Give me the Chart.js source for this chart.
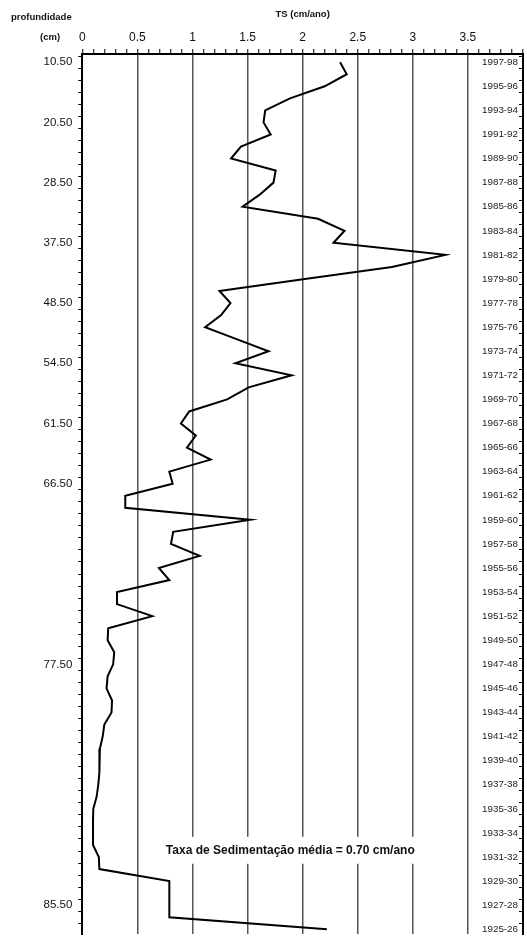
<!DOCTYPE html>
<html><head><meta charset="utf-8">
<script src="https://cdn.jsdelivr.net/npm/chart.js@4/dist/chart.umd.min.js"></script>
<style>
html,body{margin:0;padding:0;background:#fff;}
#wrap{position:relative;width:527px;height:947px;overflow:hidden;}
canvas{display:block;}
.lbl{position:absolute;font:bold 9.5px 'Liberation Sans',Arial,sans-serif;color:#111;white-space:nowrap;line-height:1;}
</style></head><body>
<div id="wrap">
<canvas id="c" width="527" height="947"></canvas>
<div class="lbl" style="left:11px;top:12px">profundidade</div>
<div class="lbl" style="left:40px;top:32px">(cm)</div>
</div>
<script>
// ---- data ----
const years = [1997,1996,1995,1994,1993,1992,1991,1990,1989,1988,1987,1986,1985,1984,1983,1982,1981,1980,1979,1978,
  1977,1976,1975,1974,1973,1972,1971,1970,1969,1968,1967,1966,1965,1964,1963,1962,1961,1960,1959,1958,
  1957,1956,1955,1954,1953,1952,1951,1950,1949,1948,1947,1946,1945,1944,1943,1942,1941,1940,1939,1938,
  1937,1936,1935,1934,1933,1932,1931,1930,1929,1928,1927,1926,1925];
const ts = [2.34,2.40,2.20,1.885,1.66,1.645,1.71,1.44,1.35,1.755,1.735,1.61,1.455,2.14,2.38,2.28,3.295,2.81,2.02,1.245,
  1.345,1.26,1.115,1.40,1.69,1.39,1.90,1.51,1.315,0.97,0.895,1.03,0.95,1.165,0.79,0.82,0.39,0.39,1.525,0.825,
  0.805,1.065,0.695,0.79,0.315,0.315,0.635,0.235,0.23,0.29,0.28,0.23,0.22,0.27,0.265,0.20,0.185,0.16,0.155,0.155,
  0.145,0.13,0.10,0.097,0.097,0.097,0.15,0.155,0.79,0.79,0.79,0.79,2.22];
const depthLabels = ["10.50","20.50","28.50","37.50","48.50","54.50","61.50","66.50","77.50","85.50"];
const depthLabelYears = [1997,1992,1987,1982,1977,1972,1967,1962,1947,1927];
const periodLabels = ["1997-98","1995-96","1993-94","1991-92","1989-90","1987-88","1985-86","1983-84","1981-82",
  "1979-80","1977-78","1975-76","1973-74","1971-72","1969-70","1967-68","1965-66","1963-64","1961-62",
  "1959-60","1957-58","1955-56","1953-54","1951-52","1949-50","1947-48","1945-46","1943-44","1941-42",
  "1939-40","1937-38","1935-36","1933-34","1931-32","1929-30","1927-28","1925-26"];
const tsTickLabels = ["0","0.5","1","1.5","2","2.5","3","3.5"];
const xTitle = "TS (cm/ano)";
const noteText = "Taxa de Sedimentação média = 0.70 cm/ano";

// ---- layout / style ----
const FONT = "'Liberation Sans', Arial, sans-serif";
const NARROW = "'Liberation Sans Narrow', 'Arial Narrow', 'Liberation Sans', Arial, sans-serif";
const Y_MIN = 1924.6, Y_MAX = 1997.68;

const halfYearTicks = () => { const t = []; for (let k = 1925; k <= 1997; k++) t.push({value: k + 0.5}); return t; };

const noteBox = {
  id: 'noteBox',
  beforeDatasetsDraw(chart, args, opts) {
    const {ctx, scales} = chart;
    const cx = scales.x.getPixelForValue(opts.x);
    const cy = scales.y.getPixelForValue(opts.y);
    ctx.save();
    ctx.font = 'bold ' + opts.size + 'px ' + FONT;
    const w = ctx.measureText(opts.text).width;
    ctx.fillStyle = '#fff';
    ctx.fillRect(cx - w / 2 - opts.padX, cy - opts.h / 2, w + 2 * opts.padX, opts.h);
    ctx.fillStyle = '#111';
    ctx.textAlign = 'center';
    ctx.textBaseline = 'middle';
    ctx.fillText(opts.text, cx, cy);
    ctx.restore();
  }
};

new Chart(document.getElementById('c'), {
  type: 'line',
  data: {
    datasets: [{
      data: years.map((y, i) => ({x: ts[i], y: y})),
      borderColor: '#000', borderWidth: 2, pointRadius: 0, tension: 0, fill: false
    }]
  },
  plugins: [noteBox],
  options: {
    responsive: false, animation: false, devicePixelRatio: 1,
    layout: {padding: {left: 0, right: 0.5, top: 0, bottom: 0}},
    plugins: {
      legend: {display: false}, tooltip: {enabled: false},
      noteBox: {text: noteText, x: 1.888, y: 1931.56, size: 12, padX: 6, h: 27}
    },
    scales: {
      x: {
        type: 'linear', position: 'top', min: 0, max: 4,
        afterBuildTicks: s => { const t = []; for (let i = 0; i <= 40; i++) t.push({value: i / 10}); s.ticks = t; },
        afterFit: s => { s.height = 54; },
        ticks: {
          autoSkip: false, maxRotation: 0, padding: 4, color: '#111', font: {family: FONT, size: 12},
          callback: v => { const r = Math.round(v * 10); return (r % 5 === 0 && r / 5 < tsTickLabels.length) ? tsTickLabels[r / 5] : ''; }
        },
        grid: {
          color: c => { const r = Math.round(c.tick.value * 10); return (r % 5 === 0 && r > 0 && r < 40) ? '#555' : 'rgba(0,0,0,0)'; },
          lineWidth: 1.5, tickColor: '#000', tickWidth: 1, tickLength: 5, drawTicks: true
        },
        border: {display: true, color: '#000', width: 2},
        title: {display: true, text: xTitle, color: '#111', font: {family: FONT, size: 9.5, weight: 'bold'}, padding: {top: 9, bottom: 0}}
      },
      y: {
        type: 'linear', position: 'left', min: Y_MIN, max: Y_MAX,
        afterBuildTicks: s => {
          const t = depthLabelYears.map(v => ({value: v})).concat(halfYearTicks());
          s.ticks = t.sort((a, b) => a.value - b.value);
        },
        afterFit: s => { s.width = 82.3; },
        ticks: {
          autoSkip: false, padding: 6, color: '#111', font: {family: FONT, size: 11.5},
          callback: v => { const i = depthLabelYears.indexOf(v); return i >= 0 ? depthLabels[i] : ''; }
        },
        grid: {
          drawOnChartArea: false, drawTicks: true, tickLength: 4, tickWidth: 1,
          tickColor: c => Number.isInteger(c.tick.value) ? 'rgba(0,0,0,0)' : '#000'
        },
        border: {display: true, color: '#000', width: 2}
      },
      y2: {
        type: 'linear', position: 'right', min: Y_MIN, max: Y_MAX,
        afterBuildTicks: s => {
          const t = periodLabels.map(l => ({value: parseInt(l, 10)})).concat(halfYearTicks());
          s.ticks = t.sort((a, b) => a.value - b.value);
        },
        afterFit: s => { s.width = 0; },
        ticks: {
          mirror: true, padding: -5, autoSkip: false, color: '#222', font: {family: NARROW, size: 9.8},
          callback: v => periodLabels.find(l => parseInt(l, 10) === v) || ''
        },
        grid: {
          drawOnChartArea: false, drawTicks: true, tickLength: -4, tickWidth: 1,
          tickColor: c => Number.isInteger(c.tick.value) ? 'rgba(0,0,0,0)' : '#000'
        },
        border: {display: true, color: '#000', width: 2}
      }
    }
  }
});
</script>
</body></html>
